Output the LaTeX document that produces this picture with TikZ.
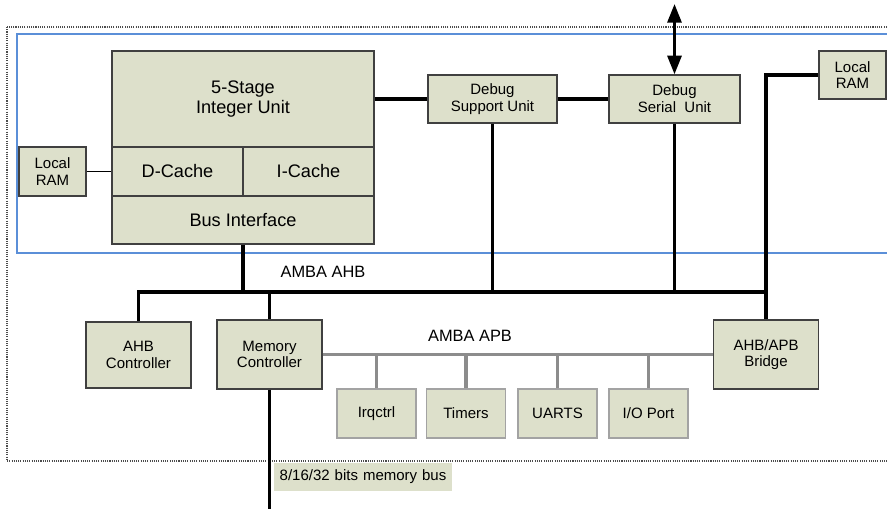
\documentclass[tikz,border=0pt]{standalone}
\usepackage{fontspec}
\setmainfont{Liberation Sans}
\usetikzlibrary{arrows.meta}
\definecolor{boxfill}{RGB}{221,224,203}
\definecolor{boxline}{RGB}{64,64,64}
\definecolor{apbline}{RGB}{140,140,140}
\definecolor{cpuline}{RGB}{91,143,216}
\newcommand{\bigtext}{\fontsize{15.5}{17}\selectfont}
\newcommand{\smalltext}{\fontsize{12.8}{14.3}\selectfont}

\begin{document}
\begin{tikzpicture}[x=0.03cm,y=-0.03cm,
    blk/.style={draw=boxline,fill=boxfill,line width=1.2pt,inner sep=0pt,align=center},
    per/.style={draw=apbline!80,fill=boxfill,line width=1.2pt,inner sep=0pt,minimum width=2.37cm,minimum height=1.47cm,font=\smalltext},
    ahb/.style={line width=3.2pt},
    apb/.style={draw=apbline,line width=2.6pt}]
        \clip (0,0) rectangle (887,509);
        \draw[densely dotted,draw=black!70,line width=0.9pt] (7,27) rectangle (900,461);
        \draw[cpuline,line width=1pt] (17,34) rectangle (900,253);

        \node[blk,minimum width=7.86cm,minimum height=2.88cm,font=\bigtext](iu) at (243,99) {5-Stage\\Integer Unit};
        \node[blk,minimum width=3.93cm,minimum height=1.47cm,font=\bigtext](dc) at (177.5,171.5) {D-Cache};
        \node[blk,minimum width=3.93cm,minimum height=1.47cm,font=\bigtext](ic) at (308.5,171.5) {I-Cache};
        \node[blk,minimum width=7.86cm,minimum height=1.44cm,font=\bigtext](bi) at (243,220) {Bus Interface};
        \node[blk,minimum width=2.01cm,minimum height=1.47cm,font=\smalltext](lram) at (52.5,171.5) {Local\\RAM};
        \node[blk,minimum width=3.87cm,minimum height=1.44cm,font=\smalltext](dsu) at (492.5,99) {Debug\\Support Unit};
        \node[blk,minimum width=3.93cm,minimum height=1.44cm,font=\smalltext](dser) at (674.5,99) {Debug\\Serial\ \ Unit};
        \node[blk,minimum width=2.01cm,minimum height=1.44cm,font=\smalltext](rram) at (852.5,75) {Local\\RAM};
        \node[blk,minimum width=3.15cm,minimum height=1.98cm,font=\smalltext](ahbc) at (138.5,355) {AHB\\Controller};
        \node[blk,minimum width=3.15cm,minimum height=2.07cm,font=\smalltext](memc) at (269.5,354.5) {Memory\\Controller};
        \node[blk,minimum width=3.15cm,minimum height=2.07cm,font=\smalltext](brg) at (766,354.5) {AHB/APB\\Bridge};
        \node[per](irq) at (376.5,413.5) {Irqctrl};
        \node[per](tim) at (466,413.5) {Timers};
        \node[per](uart) at (557.5,413.5) {UARTS};
        \node[per](iop) at (648.5,413.5) {I/O Port};
        \node[fill=boxfill,minimum height=0.84cm,inner xsep=0.17cm,text width=5.0cm,align=left,font=\smalltext](mbus) at (363,477) {\mbox{8/16/32 bits memory bus}};
        \node[font=\fontsize{14}{16}\selectfont](ahblbl) at (323,272) {AMBA AHB};
        \node[font=\fontsize{14}{16}\selectfont](apblbl) at (470,336) {AMBA APB};

        \coordinate(busr) at (766,292);
        \coordinate(dbg) at (674.5,4);
        \coordinate(mout) at (269.5,512);

        \draw[line width=1.5pt](lram)--(dc);
        \draw[line width=2.8pt](iu.east)--(dsu.west);
        \draw[line width=2.8pt](dsu)--(dser);
        \draw[line width=2.6pt,{Triangle[length=16pt,width=12pt]}-{Triangle[length=16pt,width=12pt]}](dbg)--(dser.north);
        \draw[ahb](rram.west)-|(busr);
        \draw[ahb](ahbc.north)|-(busr);
        \draw[ahb](bi.south)--(bi.south|-busr);
        \draw[ahb](memc.north)--(memc.north|-busr);
        \draw[ahb](dsu.south)--(dsu.south|-busr);
        \draw[ahb](dser.south)--(dser.south|-busr);
        \draw[ahb](brg.north)--(busr);
        \draw[ahb](memc.south)--(mout);
        \draw[apb](memc.east)--(brg.west);
        \draw[apb](irq.north)--(irq.north|-memc.east);
        \draw[apb](tim.north)--(tim.north|-memc.east);
        \draw[apb](uart.north)--(uart.north|-memc.east);
        \draw[apb](iop.north)--(iop.north|-memc.east);
        \end{tikzpicture}
\end{document}
